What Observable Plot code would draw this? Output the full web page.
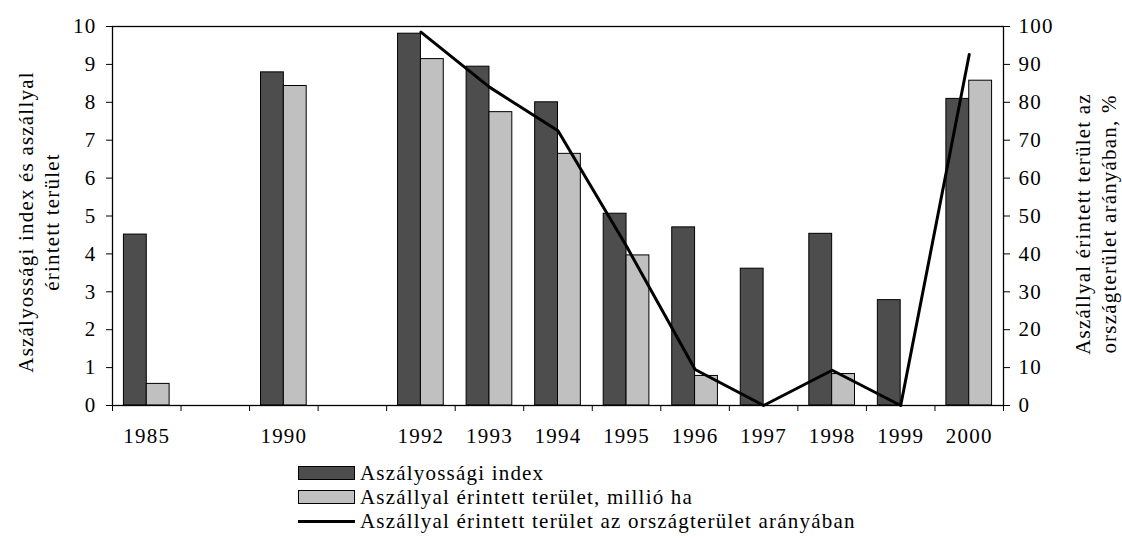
<!DOCTYPE html>
<html>
<head>
<meta charset="utf-8">
<script src="https://cdn.jsdelivr.net/npm/d3@7"></script>
<script src="https://cdn.jsdelivr.net/npm/@observablehq/plot@0.6"></script>
<style>
  body { margin: 0; background: #fff; font-family: "Liberation Serif", "Times New Roman", serif; color: #000; }
  #wrap { position: relative; width: 1122px; height: 538px; }
  #legend { position: absolute; left: 298px; top: 461px; font-size: 21px; letter-spacing: 1.2px; line-height: 24px; white-space: nowrap; }
  .row { display: flex; align-items: center; height: 24px; }
  .sw { width: 55px; height: 12px; border: 1px solid #000; margin-right: 5px; box-sizing: content-box; }
  .ln { width: 57px; height: 3px; background: #000; margin-right: 5px; }
</style>
</head>
<body>
<div id="wrap"><div id="chart"></div><div id="legend"></div></div>
<script>
// Category slots (empty strings are the gaps in the time axis)
const categories = ["1985", "", "1990", "", "1992", "1993", "1994", "1995", "1996", "1997", "1998", "1999", "2000"];
// Aszályossági index
const droughtIndex = [4.51, null, 8.79, null, 9.81, 8.94, 8.0, 5.06, 4.7, 3.61, 4.53, 2.78, 8.09];
// Aszállyal érintett terület, millió ha
const affectedArea = [0.57, null, 8.43, null, 9.14, 7.74, 6.64, 3.96, 0.78, null, 0.83, null, 8.57];
// Aszállyal érintett terület az országterület arányában, %
const affectedPct = [null, null, null, null, 98.5, 84, 72.5, 42, 9.5, 0, 9.3, 0, 92.6];

const leftTicks = [0, 1, 2, 3, 4, 5, 6, 7, 8, 9, 10];
const rightTicks = [0, 10, 20, 30, 40, 50, 60, 70, 80, 90, 100];
const seriesNames = ["Aszályossági index", "Aszállyal érintett terület, millió ha", "Aszállyal érintett terület az országterület arányában"];
const leftTitle = "Aszályossági index és aszállyal\nérintett terület";
const rightTitle = "Aszállyal érintett terület az\nországterület arányában, %";

const rows = categories.map((c, i) => ({i, c, idx: droughtIndex[i], area: affectedArea[i], pct: affectedPct[i]}));
const labeled = rows.filter(d => d.c !== "").map(d => d.i);
const boundaries = d3.range(-0.5, categories.length, 1);

const chart = Plot.plot({
  width: 1122,
  height: 455,
  marginLeft: 112,
  marginRight: 119,
  marginTop: 26,
  marginBottom: 50,
  style: "font-family: 'Liberation Serif', 'Times New Roman', serif; font-size: 21px; letter-spacing: 1.2px; color: #000; background: #fff;",
  x: {type: "linear", domain: [-0.5, categories.length - 0.5]},
  y: {domain: [0, 10]},
  marks: [
    Plot.rect(rows.filter(d => d.idx != null), {x1: d => d.i - 1/3, x2: d => d.i, y1: 0, y2: "idx", fill: "#4d4d4d", stroke: "#000", strokeWidth: 1}),
    Plot.rect(rows.filter(d => d.area != null), {x1: d => d.i, x2: d => d.i + 1/3, y1: 0, y2: "area", fill: "#c0c0c0", stroke: "#000", strokeWidth: 1}),
    Plot.line(rows.filter(d => d.pct != null), {x: "i", y: d => d.pct / 10, stroke: "#000", strokeWidth: 3, strokeLinejoin: "round"}),
    Plot.frame({stroke: "#000", strokeWidth: 1.3}),
    Plot.axisY({ticks: leftTicks, anchor: "left", tickSize: 6, tickPadding: 10, label: null, fontSize: 21}),
    Plot.axisY({ticks: rightTicks.map(v => v / 10), anchor: "right", tickSize: 6, tickPadding: 9, tickFormat: d => Math.round(d * 10), label: null, fontSize: 21}),
    Plot.axisX({ticks: boundaries, tickSize: 6, tickFormat: () => "", label: null}),
    Plot.axisX({ticks: labeled, tickSize: 0, tickPadding: 23, tickFormat: i => categories[i], label: null, fontSize: 21}),
    Plot.text([leftTitle], {frameAnchor: "left", textAnchor: "middle", rotate: -90, dx: -75, dy: 6, lineHeight: 1.24, fontSize: 21, fill: "#000"}),
    Plot.text([rightTitle], {frameAnchor: "right", textAnchor: "middle", rotate: -90, dx: 91, dy: 8, lineHeight: 1.24, fontSize: 21, fill: "#000"})
  ]
});
document.getElementById("chart").appendChild(chart);

const legend = document.getElementById("legend");
const swatches = [
  {name: seriesNames[0], cls: "sw", color: "#4d4d4d"},
  {name: seriesNames[1], cls: "sw", color: "#c0c0c0"},
  {name: seriesNames[2], cls: "ln", color: "#000"}
];
for (const s of swatches) {
  const row = document.createElement("div");
  row.className = "row";
  const sw = document.createElement("span");
  sw.className = s.cls;
  sw.style.background = s.color;
  const t = document.createElement("span");
  t.textContent = s.name;
  row.appendChild(sw);
  row.appendChild(t);
  legend.appendChild(row);
}
</script>
</body>
</html>
